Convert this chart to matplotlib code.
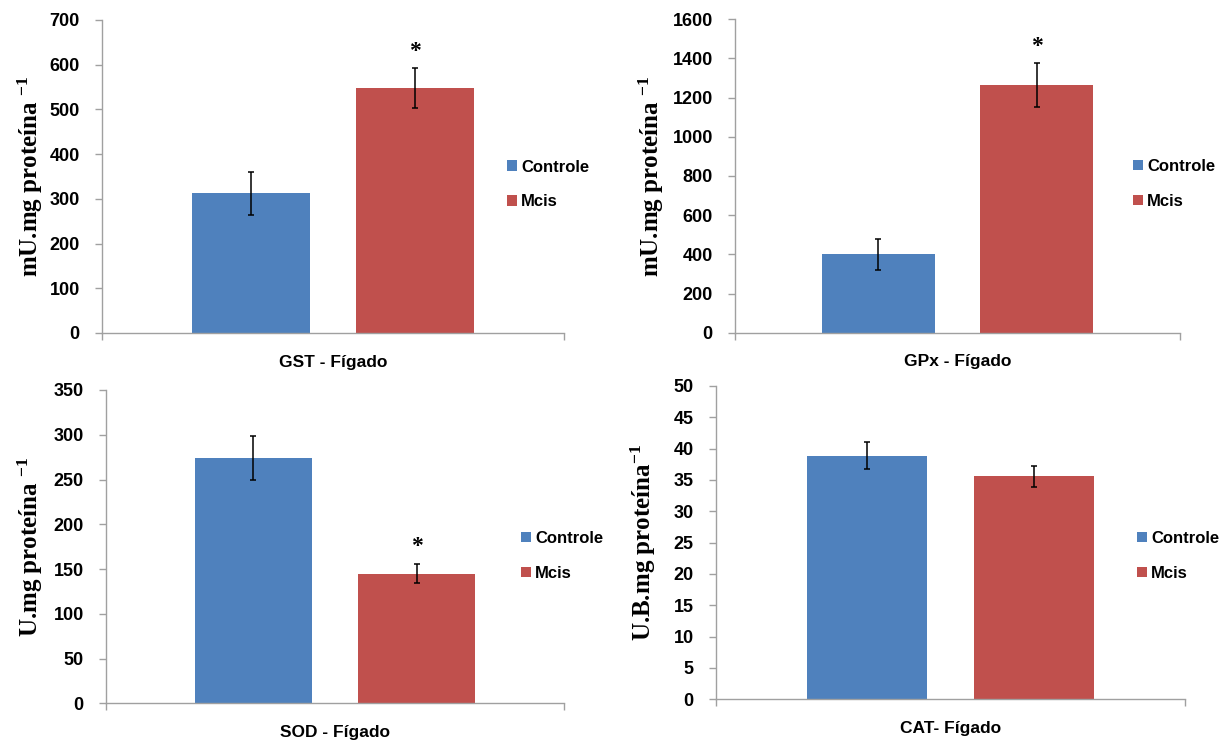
import matplotlib
matplotlib.use("Agg")
import matplotlib.pyplot as plt

plt.rcParams['font.family'] = ['Liberation Sans', 'DejaVu Sans']
plt.rcParams['mathtext.default'] = 'regular'

# ---------------- data ----------------
series = ["Controle", "Mcis"]
colors = ["#4F81BD", "#C0504D"]

panel_xlabels = ["GST - Fígado", "GPx - Fígado", "SOD - Fígado", "CAT- Fígado"]
panel_ylabels = [r"mU.mg proteína $^{-1}$", r"mU.mg proteína $^{-1}$",
                 r"U.mg proteína $^{-1}$", r"U.B.mg proteína$^{-1}$"]

gst_means = [313, 548]
gst_errs = [48, 45]
gpx_means = [400, 1264]
gpx_errs = [79, 112]
sod_means = [274, 145]
sod_errs = [24.5, 11]
cat_means = [38.9, 35.6]
cat_errs = [2.1, 1.7]

means_all = [gst_means, gpx_means, sod_means, cat_means]
errs_all = [gst_errs, gpx_errs, sod_errs, cat_errs]
significant = [[False, True], [False, True], [False, True], [False, False]]

ymax_all = [700, 1600, 350, 50]
ystep_all = [100, 200, 50, 5]

# ---------------- layout ----------------
W, H = 1228, 745
fig = plt.figure(figsize=(W / 100, H / 100), dpi=100)

# axes boxes in pixels: left, right, top, bottom
boxes = [(102, 564, 20, 333), (735, 1180, 19.3, 332.7),
         (106, 564, 390, 703.3), (716, 1185, 386, 699.3)]
legend_anchor = [(507, 184.5), (1133, 184), (521, 556), (1137, 556)]
ylabel_x = [45, 666, 45, 658]

axis_col = "#A0A0A0"

for i in range(4):
    l, r, t, b = boxes[i]
    ax = fig.add_axes([l / W, 1 - b / H, (r - l) / W, (b - t) / H])
    positions = [0.5 - 0.178, 0.5 + 0.178]
    bars = []
    for j in range(2):
        bc = ax.bar(positions[j], means_all[i][j], width=0.255, color=colors[j],
                    yerr=errs_all[i][j], error_kw=dict(ecolor="black", elinewidth=1.1,
                                                        capsize=2.5, capthick=1.1),
                    label=series[j], zorder=2)
        bars.append(bc)
        if significant[i][j]:
            ax.annotate("*", xy=(positions[j], means_all[i][j] + errs_all[i][j]),
                        xytext=(0, 12), textcoords="offset points",
                        ha="center", va="center", fontsize=17, fontweight="bold",
                        family="Liberation Serif", color="black")
    ax.set_xlim(0, 1)
    ax.set_ylim(0, ymax_all[i])
    ax.set_yticks(range(0, ymax_all[i] + 1, ystep_all[i]))
    ax.set_xticks([0, 1])
    ax.set_xticklabels(["", ""])
    for s in ["top", "right"]:
        ax.spines[s].set_visible(False)
    for s in ["left", "bottom"]:
        ax.spines[s].set_color(axis_col)
        ax.spines[s].set_linewidth(1.0)
    ax.tick_params(axis="both", direction="out", length=5, width=1.0, color=axis_col)
    ax.tick_params(axis="y", labelsize=13, pad=11)
    for lab in ax.get_yticklabels():
        lab.set_fontweight("bold")
    ax.set_xlabel(panel_xlabels[i], fontsize=12.5, fontweight="bold", labelpad=7)
    ax.set_ylabel(panel_ylabels[i], fontsize=18, fontweight="bold",
                  family="Liberation Serif")
    ax.yaxis.set_label_coords((ylabel_x[i] - l) / (r - l), 0.5)

    lx, ly = legend_anchor[i]
    ax.legend(handles=[bb.patches[0] for bb in bars], labels=series,
              loc="center left", bbox_to_anchor=(lx / W, 1 - ly / H),
              bbox_transform=fig.transFigure, frameon=False,
              prop=dict(size=12, weight="bold"), handlelength=0.6, handleheight=0.6,
              handletextpad=0.25, labelspacing=1.2, borderpad=0, borderaxespad=0)

fig.savefig("out.png", dpi=100, facecolor="white")
